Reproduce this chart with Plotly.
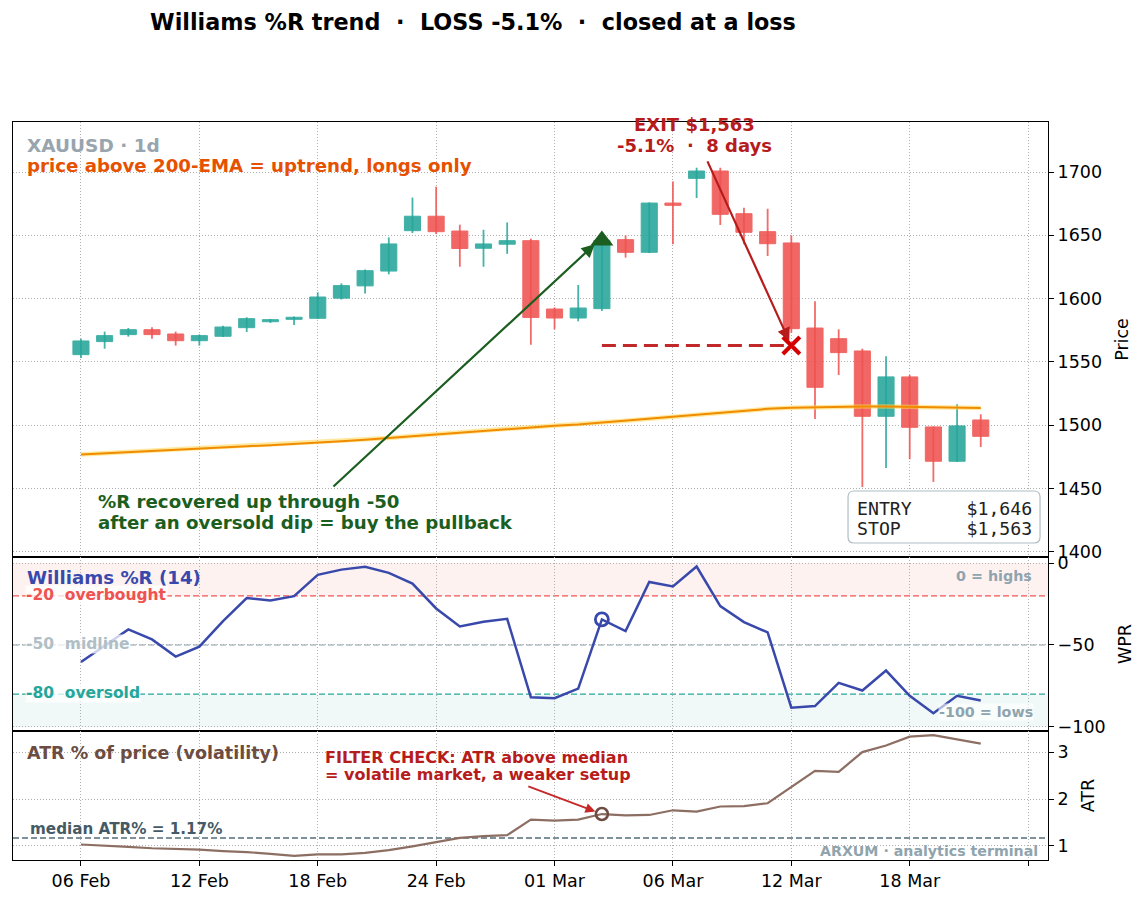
import plotly.graph_objects as go
from plotly.subplots import make_subplots

# ---------------- data ----------------
tick_labels = ["06 Feb", "12 Feb", "18 Feb", "24 Feb", "01 Mar", "06 Mar", "12 Mar", "18 Mar", ""]
tick_index = [0, 5, 10, 15, 20, 25, 30, 35, 40]

opens = [1555.8, 1566.1, 1571.6, 1575.5, 1572.1, 1566.8, 1570.3, 1577.1, 1581.8, 1583.7,
         1584.5, 1600.4, 1610.1, 1621.8, 1653.7, 1665.1, 1653.4, 1639.8, 1643.0, 1645.8,
         1591.8, 1584.7, 1592.1, 1646.6, 1636.6, 1675.5, 1695.0, 1700.8, 1667.1, 1652.9,
         1644.0, 1576.8, 1568.4, 1558.7, 1507.1, 1538.2, 1498.7, 1471.6, 1504.2]
highs = [1568.4, 1574.0, 1576.8, 1577.4, 1574.0, 1571.8, 1578.7, 1585.3, 1584.0, 1586.0,
         1605.0, 1612.1, 1623.1, 1648.4, 1679.8, 1688.4, 1658.4, 1654.4, 1660.2, 1647.4,
         1593.1, 1610.8, 1647.4, 1650.0, 1676.0, 1692.6, 1703.4, 1703.4, 1671.8, 1671.0,
         1650.0, 1597.9, 1575.8, 1560.5, 1554.5, 1539.7, 1499.0, 1516.6, 1508.7]
lows = [1553.2, 1560.5, 1570.0, 1568.4, 1562.9, 1562.9, 1569.7, 1573.7, 1580.8, 1579.2,
        1584.0, 1599.3, 1604.0, 1619.2, 1651.8, 1651.0, 1625.2, 1625.2, 1635.4, 1563.6,
        1575.8, 1582.1, 1590.3, 1632.4, 1636.0, 1642.9, 1679.5, 1658.2, 1642.9, 1633.7,
        1573.0, 1505.0, 1539.7, 1451.3, 1466.3, 1473.2, 1455.3, 1471.0, 1482.9]
closes = [1566.6, 1570.8, 1575.5, 1571.6, 1566.8, 1570.8, 1577.6, 1584.2, 1583.4, 1585.3,
          1601.3, 1610.3, 1622.1, 1643.2, 1665.1, 1652.9, 1639.6, 1643.2, 1645.8, 1585.2,
          1584.7, 1592.6, 1646.0, 1636.6, 1675.5, 1673.7, 1700.8, 1666.6, 1652.4, 1643.4,
          1576.3, 1530.0, 1557.4, 1507.1, 1538.2, 1498.4, 1471.6, 1499.5, 1491.3]
ema200 = [1477.0, 1478.0, 1479.0, 1479.9, 1480.8, 1481.7, 1482.5, 1483.4, 1484.3, 1485.2,
          1486.2, 1487.4, 1488.6, 1490.0, 1491.6, 1493.2, 1494.6, 1496.0, 1497.3, 1498.5,
          1499.6, 1500.7, 1502.2, 1503.6, 1505.1, 1506.7, 1508.4, 1510.0, 1511.5, 1513.0,
          1513.8, 1514.3, 1514.7, 1514.9, 1514.8, 1514.6, 1514.3, 1514.0, 1513.7]
wpr = [-60.4, -50.5, -40.5, -46.6, -57.1, -51.0, -35.4, -21.4, -22.8, -20.2,
       -7.2, -4.0, -2.2, -6.0, -12.5, -27.7, -38.7, -35.8, -34.0, -81.9,
       -82.5, -76.6, -34.4, -41.5, -11.5, -14.3, -2.1, -26.3, -36.0, -42.3,
       -88.3, -87.3, -73.1, -77.8, -65.6, -81.0, -91.6, -81.0, -83.9]
atr_pct = [1.03, 1.01, 0.98, 0.95, 0.94, 0.92, 0.89, 0.87, 0.83, 0.79,
           0.82, 0.82, 0.85, 0.91, 0.99, 1.08, 1.17, 1.21, 1.23, 1.56,
           1.54, 1.56, 1.68, 1.65, 1.66, 1.76, 1.73, 1.84, 1.85, 1.91,
           2.26, 2.60, 2.58, 3.00, 3.14, 3.33, 3.36, 3.27, 3.18]

entry_idx, exit_idx = 22, 30
entry_price, stop_price = 1646, 1563
median_atr = 1.17

idx = list(range(len(opens)))

UP, DN = "#26a69a", "#ef5350"
FONT = "DejaVu Sans"
NB = "\u00a0"

fig = make_subplots(rows=3, cols=1, shared_xaxes=True, vertical_spacing=0)

# ---- wicks ----
for up in (True, False):
    xs, ys = [], []
    for i in idx:
        if (closes[i] >= opens[i]) == up:
            xs += [i, i, None]
            ys += [lows[i], highs[i], None]
    fig.add_trace(go.Scatter(x=xs, y=ys, mode="lines", line=dict(color=UP if up else DN, width=1.8),
                             opacity=0.85, hoverinfo="skip", showlegend=False), row=1, col=1)

# ---- bodies ----
for up in (True, False):
    bx, bb, bh = [], [], []
    for i in idx:
        if (closes[i] >= opens[i]) == up:
            bx.append(i)
            bb.append(min(opens[i], closes[i]))
            bh.append(abs(closes[i] - opens[i]))
    col = UP if up else DN
    fig.add_trace(go.Bar(x=bx, y=bh, base=bb, width=0.68,
                         marker=dict(color=col, line=dict(color=col, width=1)),
                         opacity=0.88, showlegend=False, hoverinfo="skip"), row=1, col=1)

# ---- EMA ----
fig.add_trace(go.Scatter(x=idx, y=ema200, mode="lines", line=dict(color="rgba(255,213,79,0.55)", width=4.5),
                         showlegend=False, hoverinfo="skip"), row=1, col=1)
fig.add_trace(go.Scatter(x=idx, y=ema200, mode="lines", line=dict(color="#f08c00", width=2),
                         showlegend=False, hoverinfo="skip"), row=1, col=1)

# ---- stop dashed line, markers ----
fig.add_trace(go.Scatter(x=[entry_idx, exit_idx], y=[stop_price, stop_price], mode="lines",
                         line=dict(color="#c0282a", width=3, dash="14px,7px"),
                         showlegend=False, hoverinfo="skip"), row=1, col=1)
fig.add_trace(go.Scatter(x=[entry_idx], y=[entry_price], mode="markers",
                         marker=dict(symbol="triangle-up", size=20, color="#1b5e20"),
                         showlegend=False, hoverinfo="skip"), row=1, col=1)
fig.add_trace(go.Scatter(x=[exit_idx], y=[stop_price], mode="markers",
                         marker=dict(symbol="x-thin", size=17, color="#d50000",
                                     line=dict(color="#d50000", width=4)),
                         showlegend=False, hoverinfo="skip"), row=1, col=1)

# ---- WPR ----
fig.add_trace(go.Scatter(x=idx, y=wpr, mode="lines", line=dict(color="#3949ab", width=2.5),
                         showlegend=False, hoverinfo="skip"), row=2, col=1)
fig.add_trace(go.Scatter(x=[entry_idx], y=[wpr[entry_idx]], mode="markers",
                         marker=dict(symbol="circle-open", size=13, color="#3949ab",
                                     line=dict(color="#3949ab", width=2.8)),
                         showlegend=False, hoverinfo="skip"), row=2, col=1)

# ---- ATR ----
fig.add_trace(go.Scatter(x=idx, y=atr_pct, mode="lines", line=dict(color="#8d6e63", width=2.2),
                         showlegend=False, hoverinfo="skip"), row=3, col=1)
fig.add_trace(go.Scatter(x=[entry_idx], y=[atr_pct[entry_idx]], mode="markers",
                         marker=dict(symbol="circle-open", size=12, color="#6d4c41",
                                     line=dict(color="#6d4c41", width=2.6)),
                         showlegend=False, hoverinfo="skip"), row=3, col=1)

# ---- shapes ----
# rounded info box (domain coords of the price panel)
bx0, bx1, by0, by1 = 0.8068, 0.9923, 0.0322, 0.1517
rx, ry = 0.0058, 0.0138
box_path = (f"M {bx0+rx},{by0} L {bx1-rx},{by0} Q {bx1},{by0} {bx1},{by0+ry} "
            f"L {bx1},{by1-ry} Q {bx1},{by1} {bx1-rx},{by1} L {bx0+rx},{by1} "
            f"Q {bx0},{by1} {bx0},{by1-ry} L {bx0},{by0+ry} Q {bx0},{by0} {bx0+rx},{by0} Z")
shapes = [
    dict(type="rect", xref="x2 domain", yref="y2", x0=0, x1=1, y0=-20, y1=0,
         fillcolor="rgba(239,83,80,0.08)", line_width=0, layer="below"),
    dict(type="rect", xref="x2 domain", yref="y2", x0=0, x1=1, y0=-100, y1=-80,
         fillcolor="rgba(38,166,154,0.07)", line_width=0, layer="below"),
    dict(type="line", xref="x2 domain", yref="y2", x0=0, x1=1, y0=-20, y1=-20,
         line=dict(color="#ef5350", width=1.4, dash="6px,3px"), layer="below"),
    dict(type="line", xref="x2 domain", yref="y2", x0=0, x1=1, y0=-50, y1=-50,
         line=dict(color="#b0bec5", width=1.4, dash="6px,3px"), layer="below"),
    dict(type="line", xref="x2 domain", yref="y2", x0=0, x1=1, y0=-80, y1=-80,
         line=dict(color="#26a69a", width=1.4, dash="6px,3px"), layer="below"),
    dict(type="line", xref="x3 domain", yref="y3", x0=0, x1=1, y0=median_atr, y1=median_atr,
         line=dict(color="#546e7a", width=1.4, dash="6px,3px"), layer="below"),
    dict(type="path", xref="x domain", yref="y domain", path=box_path,
         fillcolor="white", line=dict(color="#b0bec5", width=1.2), layer="above"),
]

ann = []
def txt(text, x, y, xref, yref, size, color, xanchor="left", yanchor="middle", align="left", **kw):
    d = dict(text=text, x=x, y=y, xref=xref, yref=yref, showarrow=False, xanchor=xanchor,
             yanchor=yanchor, align=align, font=dict(family=kw.pop("family", FONT), size=size,
                                                       color=color, weight=kw.pop("weight", "bold")))
    d.update(kw)
    ann.append(d)

txt("XAUUSD · 1d", 0.0116, 0.945, "x domain", "y domain", 18.5, "#98a4ae")
txt("price above 200-EMA = uptrend, longs only", 0.0116, 0.899, "x domain", "y domain", 18.2, "#e65100")
txt("%R recovered up through -50", 0.63, 1439.5, "x", "y", 18.2, "#1b5e20")
txt("after an oversold dip = buy the pullback", 0.63, 1422.9, "x", "y", 18.2, "#1b5e20")
txt("EXIT $1,563", 25.93, 1737.3, "x", "y", 18, "#b71c1c", xanchor="center", align="center")
txt(f"-5.1%{NB} · {NB}8 days", 25.93, 1720.7, "x", "y", 18, "#b71c1c", xanchor="center", align="center")
txt(f"ENTRY{NB*5}$1,646", 0.8135, 0.1126, "x domain", "y domain",
    18.2, "#222222", family="DejaVu Sans Mono", weight="normal")
txt(f"STOP{NB*6}$1,563", 0.8135, 0.0644, "x domain", "y domain",
    18.2, "#222222", family="DejaVu Sans Mono", weight="normal")

# WPR panel texts
txt("Williams %R (14)", 0.0116, -9.0, "x2 domain", "y2", 18.2, "#3949ab")
txt(f"-20{NB} overbought", 0.0116, -19.5, "x2 domain", "y2", 15.5, "#ef5350",
    bgcolor="rgba(255,255,255,0.75)", borderpad=0)
txt(f"-50{NB} midline", 0.0116, -49.5, "x2 domain", "y2", 15.5, "#b0bec5",
    bgcolor="rgba(255,255,255,0.75)", borderpad=0)
txt(f"-80{NB} oversold", 0.0116, -79.0, "x2 domain", "y2", 15.5, "#26a69a",
    bgcolor="rgba(255,255,255,0.75)", borderpad=0)
txt("0 = highs", 0.9865, -8.0, "x2 domain", "y2", 14.3, "#90a4ae", xanchor="right")
txt("-100 = lows", 0.9865, -91.0, "x2 domain", "y2", 14.3, "#90a4ae", xanchor="right",
    bgcolor="rgba(255,255,255,0.6)", borderpad=0)

# ATR panel texts
txt("ATR % of price (volatility)", 0.0116, 2.98, "x3 domain", "y3", 17.5, "#6d4c41")
txt("FILTER CHECK: ATR above median", 10.22, 2.894, "x3", "y3", 16, "#b71c1c")
txt("= volatile market, a weaker setup", 10.22, 2.532, "x3", "y3", 16, "#b71c1c")
txt("median ATR% = 1.17%", 0.0145, 1.36, "x3 domain", "y3", 15.2, "#455a64")
txt("ARXUM · analytics terminal", 0.9923, 0.89, "x3 domain", "y3", 14.2, "#90a4ae", xanchor="right")

# arrows
ann.append(dict(x=21.7, y=1643, ax=10.6, ay=1450.6, xref="x", yref="y", axref="x", ayref="y",
                text="", showarrow=True, arrowhead=2, arrowsize=1.2, arrowwidth=2.2, arrowcolor="#1b5e20"))
ann.append(dict(x=exit_idx, y=stop_price, ax=26.43, ay=1709.6, xref="x", yref="y", axref="x", ayref="y",
                text="", showarrow=True, arrowhead=2, arrowsize=1.2, arrowwidth=2.2, arrowcolor="#b71c1c",
                standoff=5))
ann.append(dict(x=entry_idx, y=atr_pct[entry_idx], ax=18.83, ay=2.28, xref="x3", yref="y3", axref="x3",
                ayref="y3", text="", showarrow=True, arrowhead=2, arrowsize=1.1, arrowwidth=1.8,
                arrowcolor="#c62828", standoff=7))

# ---- layout ----
W, H = 1147, 903
ml, mr, mt, mb = 13, 99, 122, 43
ph = H - mt - mb
def frac(ypx):
    return (H - mb - ypx) / ph

TICKF = dict(family=FONT, size=17.5, color="black")
axis_common = dict(showline=True, mirror=True, linecolor="black", linewidth=1.2,
                   showgrid=True, gridcolor="#b0b0b0", griddash="1px,2px", gridwidth=1,
                   zeroline=False, tickfont=TICKF)

fig.update_layout(
    width=W, height=H, margin=dict(l=ml, r=mr, t=mt, b=mb),
    paper_bgcolor="white", plot_bgcolor="white", barmode="overlay", showlegend=False,
    title=dict(text=f"Williams %R trend {NB}·{NB} LOSS -5.1% {NB}·{NB} closed at a loss",
               x=473 / W, xanchor="center", y=1 - 22 / H, yanchor="middle", xref="container", yref="container",
               font=dict(family=FONT, size=22.3, color="black", weight="bold")),
    shapes=shapes, annotations=ann,
)

xr = [-2.87, 40.84]
ytitle = lambda t: dict(text=t, font=dict(family=FONT, size=17.5, color="black"), standoff=14)
fig.update_layout(
    xaxis=dict(**axis_common, range=xr, tickvals=tick_index, ticktext=tick_labels, showticklabels=False,
               ticks="", anchor="y"),
    xaxis2=dict(**axis_common, range=xr, tickvals=tick_index, ticktext=tick_labels, showticklabels=False,
                ticks="", anchor="y2", matches="x"),
    xaxis3=dict(**axis_common, range=xr, tickvals=tick_index, ticktext=tick_labels, showticklabels=True,
                ticks="outside", ticklen=5, tickcolor="black", anchor="y3", matches="x"),
    yaxis=dict(**axis_common, domain=[frac(557), 1.0], range=[1396, 1739.5], side="right",
               tickvals=[1400, 1450, 1500, 1550, 1600, 1650, 1700], ticks="outside", ticklen=5,
               tickcolor="black", title=ytitle("Price")),
    yaxis2=dict(**axis_common, domain=[frac(731), frac(557)], range=[-102.5, 3.7], side="right",
                tickvals=[-100, -50, 0], ticks="outside", ticklen=5, tickcolor="black",
                title=ytitle("WPR")),
    yaxis3=dict(**axis_common, domain=[0.0, frac(731)], range=[0.70, 3.45], side="right",
                tickvals=[1, 2, 3], ticks="outside", ticklen=5, tickcolor="black",
                title=ytitle("ATR")),
)

fig.write_html("out.html")
